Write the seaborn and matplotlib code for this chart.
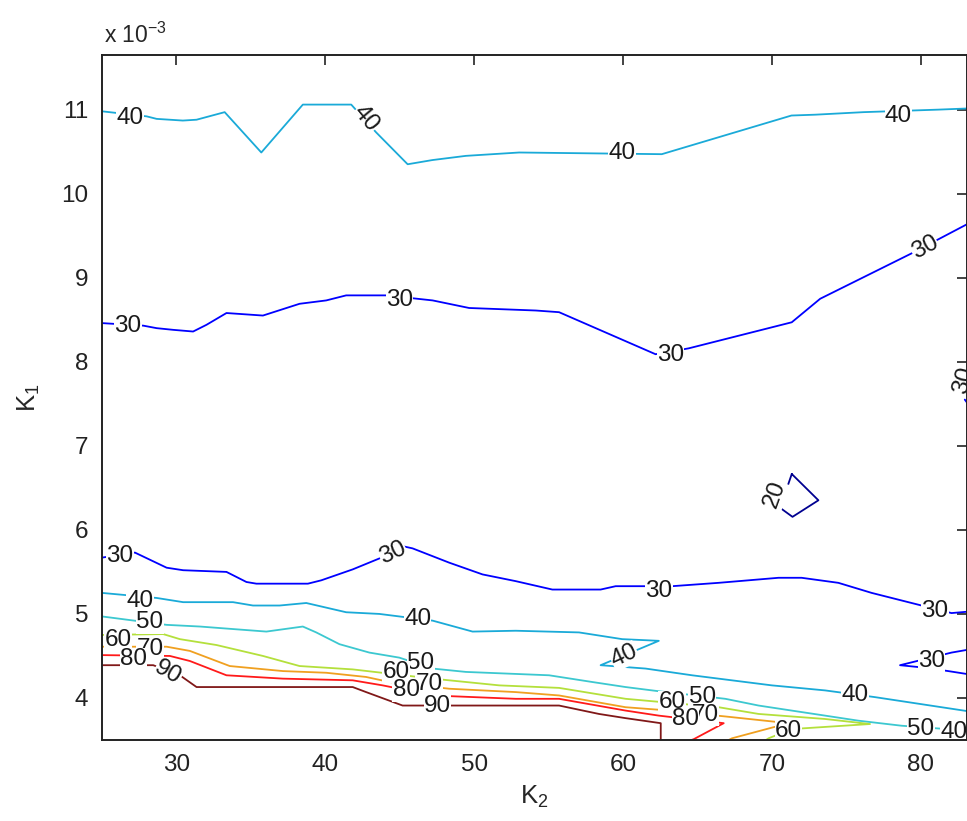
import matplotlib
matplotlib.use("Agg")
import matplotlib.pyplot as plt
import seaborn as sns

# ---- contour polylines (K2, K1 in units of 1e-3) ----
c40_top_x = [25.0, 28.0, 28.67, 30.43, 31.35, 33.24, 35.70, 38.49, 41.74, 43.41, 45.53, 47.19, 49.44, 53.02, 62.60, 71.31, 72.92, 76.14, 81.17, 84.0]
c40_top_y = [10.98, 10.92, 10.89, 10.87, 10.88, 10.97, 10.49, 11.06, 11.06, 10.73, 10.35, 10.40, 10.45, 10.49, 10.47, 10.93, 10.94, 10.97, 11.00, 11.02]

c30_top_x = [25.0, 27.77, 28.67, 29.78, 31.12, 32.02, 33.36, 35.81, 38.27, 40.06, 41.40, 44.08, 47.21, 49.66, 54.14, 55.70, 62.18, 64.41, 71.33, 73.24, 79.38, 84.0]
c30_top_y = [8.46, 8.43, 8.40, 8.38, 8.36, 8.44, 8.58, 8.55, 8.69, 8.73, 8.79, 8.79, 8.73, 8.64, 8.61, 8.59, 8.09, 8.16, 8.47, 8.75, 9.29, 9.72]

c30_edge_x = [82.95, 84.0]
c30_edge_y = [7.55, 7.30]

c20_x = [71.33, 73.12, 71.38, 70.55, 71.33]
c20_y = [6.665, 6.352, 6.155, 6.262, 6.665]

c30_low_x = [25.0, 27.21, 29.34, 30.45, 33.36, 34.70, 35.37, 38.83, 39.73, 41.84, 43.63, 45.09, 45.86, 48.32, 50.56, 52.79, 55.25, 58.49, 59.50, 63.29, 66.42, 70.44, 71.99, 74.46, 76.70, 80.05, 82.06, 84.0]
c30_low_y = [5.67, 5.73, 5.55, 5.52, 5.50, 5.38, 5.36, 5.36, 5.40, 5.53, 5.66, 5.81, 5.78, 5.61, 5.47, 5.39, 5.29, 5.29, 5.33, 5.33, 5.37, 5.43, 5.43, 5.37, 5.25, 5.10, 5.01, 5.04]

c30_wedge_x = [84.0, 82.06, 78.60, 80.27, 81.84, 84.0]
c30_wedge_y = [4.60, 4.54, 4.39, 4.36, 4.32, 4.26]

c40_low_x = [25.0, 28.67, 30.45, 33.80, 35.14, 36.93, 38.72, 41.40, 43.63, 47.21, 49.89, 52.79, 57.04, 59.94, 62.40, 58.49, 61.51, 64.63, 67.31, 69.99, 73.57, 76.92, 81.39, 84.0]
c40_low_y = [5.25, 5.19, 5.14, 5.14, 5.10, 5.10, 5.13, 5.02, 5.00, 4.92, 4.79, 4.80, 4.78, 4.70, 4.68, 4.39, 4.35, 4.27, 4.21, 4.15, 4.09, 4.01, 3.89, 3.82]

c50_x = [25.0, 29.34, 31.58, 33.80, 36.04, 38.49, 39.39, 40.95, 42.96, 44.97, 47.21, 49.44, 55.03, 57.93, 60.17, 62.40, 66.87, 69.10, 71.33, 73.57, 75.80, 78.70, 84.0]
c50_y = [4.97, 4.87, 4.85, 4.82, 4.79, 4.85, 4.78, 4.64, 4.54, 4.48, 4.35, 4.31, 4.27, 4.19, 4.13, 4.08, 3.99, 3.91, 3.85, 3.79, 3.73, 3.67, 3.60]

c60_x = [25.0, 29.11, 30.23, 32.69, 35.81, 38.27, 41.84, 47.21, 51.68, 55.70, 60.17, 66.42, 69.10, 73.57, 76.59, 71.33, 69.77, 69.6]
c60_y = [4.75, 4.76, 4.70, 4.63, 4.50, 4.38, 4.34, 4.23, 4.15, 4.12, 3.99, 3.89, 3.81, 3.75, 3.69, 3.63, 3.52, 3.50]

c70_x = [25.0, 29.34, 30.90, 33.58, 37.15, 40.06, 42.74, 44.30, 48.32, 52.79, 55.70, 60.17, 62.40, 66.87, 71.11, 67.31, 67.1]
c70_y = [4.61, 4.61, 4.56, 4.38, 4.32, 4.30, 4.25, 4.19, 4.11, 4.07, 4.03, 3.89, 3.86, 3.78, 3.70, 3.52, 3.50]

c80_x = [25.0, 29.56, 30.90, 33.36, 37.15, 41.84, 43.85, 47.21, 52.79, 55.70, 60.17, 62.40, 66.76, 64.75, 64.6]
c80_y = [4.51, 4.50, 4.44, 4.27, 4.23, 4.21, 4.15, 4.03, 3.99, 3.99, 3.85, 3.79, 3.70, 3.51, 3.50]

c90_x = [25.0, 28.44, 30.23, 31.35, 41.84, 42.74, 45.19, 55.70, 58.38, 60.17, 62.53, 62.53]
c90_y = [4.39, 4.39, 4.27, 4.13, 4.13, 4.07, 3.91, 3.91, 3.81, 3.76, 3.70, 3.50]

# contour label values and positions (K2, K1*1e3, rotation)
lab_text = ["40", "40", "40", "40", "30", "30", "30", "30", "30", "20",
            "30", "30", "30", "30", "30", "40", "40", "40", "40",
            "50", "50", "50", "50", "60", "60", "60", "60",
            "70", "70", "70", "80", "80", "80", "90", "90", "40"]
lab_x = [26.88, 42.74, 59.92, 78.49, 26.74, 44.97, 63.18, 80.27, 82.85, 70.22,
         26.20, 44.52, 62.40, 80.94, 80.72, 27.55, 46.20, 60.08, 75.58,
         28.22, 46.42, 65.31, 80.00, 26.09, 44.75, 63.29, 71.11,
         28.22, 46.98, 65.53, 27.10, 45.42, 64.19, 29.44, 47.54, 82.2]
lab_y = [10.90, 10.89, 10.48, 10.93, 8.42, 8.74, 8.08, 9.36, 7.78, 6.42,
         5.69, 5.73, 5.27, 5.04, 4.44, 5.15, 4.94, 4.50, 4.03,
         4.90, 4.42, 4.01, 3.63, 4.69, 4.31, 3.95, 3.61,
         4.58, 4.17, 3.80, 4.46, 4.09, 3.75, 4.30, 3.91, 3.59]
lab_rot = [0, -50, 0, 0, 0, 0, 0, 28, 75, 70,
           0, 25, 0, 0, 0, 0, 0, 25, 0,
           0, 0, 0, 0, 0, 0, 0, 0,
           0, 0, 0, 0, 0, 0, -30, 0, 0]

x_ticks = [30, 40, 50, 60, 70, 80]
y_ticks = [4, 5, 6, 7, 8, 9, 10, 11]

colors = {20: "#000090", 30: "#0000FF", 40: "#1AAAD8", 50: "#3CC8D0",
          60: "#B4E03C", 70: "#F0A020", 80: "#FF1A1A", 90: "#801818"}

sns.set_style("white")
plt.rcParams["font.family"] = ["Liberation Sans", "DejaVu Sans"]
plt.rcParams["mathtext.fontset"] = "custom"
plt.rcParams["mathtext.rm"] = "Liberation Sans"
plt.rcParams["mathtext.it"] = "Liberation Sans"

fig = plt.figure(figsize=(9.67, 8.21), dpi=100)
ax = fig.add_axes([102 / 967, 81 / 821, 865 / 967, 685 / 821])

lines = [
    (c40_top_x, c40_top_y, 40), (c30_top_x, c30_top_y, 30), (c30_edge_x, c30_edge_y, 30),
    (c20_x, c20_y, 20), (c30_low_x, c30_low_y, 30), (c30_wedge_x, c30_wedge_y, 30),
    (c40_low_x, c40_low_y, 40), (c50_x, c50_y, 50), (c60_x, c60_y, 60),
    (c70_x, c70_y, 70), (c80_x, c80_y, 80), (c90_x, c90_y, 90),
]
for xs, ys, lev in lines:
    sns.lineplot(x=xs, y=ys, sort=False, estimator=None, color=colors[lev],
                 lw=1.3, ax=ax, legend=False)

for t, x, y, r in zip(lab_text, lab_x, lab_y, lab_rot):
    ax.text(x, y, t, fontsize=17.5, color="#1a1a1a", rotation=r, rotation_mode="anchor",
            ha="center", va="center",
            bbox=dict(facecolor="white", edgecolor="none", pad=0.2), zorder=5)

ax.set_xlim(25, 83.1)
ax.set_ylim(3.5, 11.65)
ax.set_xticks(x_ticks)
ax.set_yticks(y_ticks)
ax.tick_params(direction="in", length=7, width=1.2, labelsize=17.5, colors="#222222",
               top=True, right=True, pad=10)
for s in ax.spines.values():
    s.set_color("#222222")
    s.set_linewidth(1.4)
    s.set_visible(True)
    s.set_zorder(6)

ax.set_xlabel("K$_2$", fontsize=18.5, labelpad=6)
ax.set_ylabel("K$_1$", fontsize=18.5, labelpad=14)
fig.text(104 / 967, 1 - 35 / 821, "x 10$^{-3}$", fontsize=16.5, ha="left", va="center")

fig.savefig("out.png", dpi=100)
